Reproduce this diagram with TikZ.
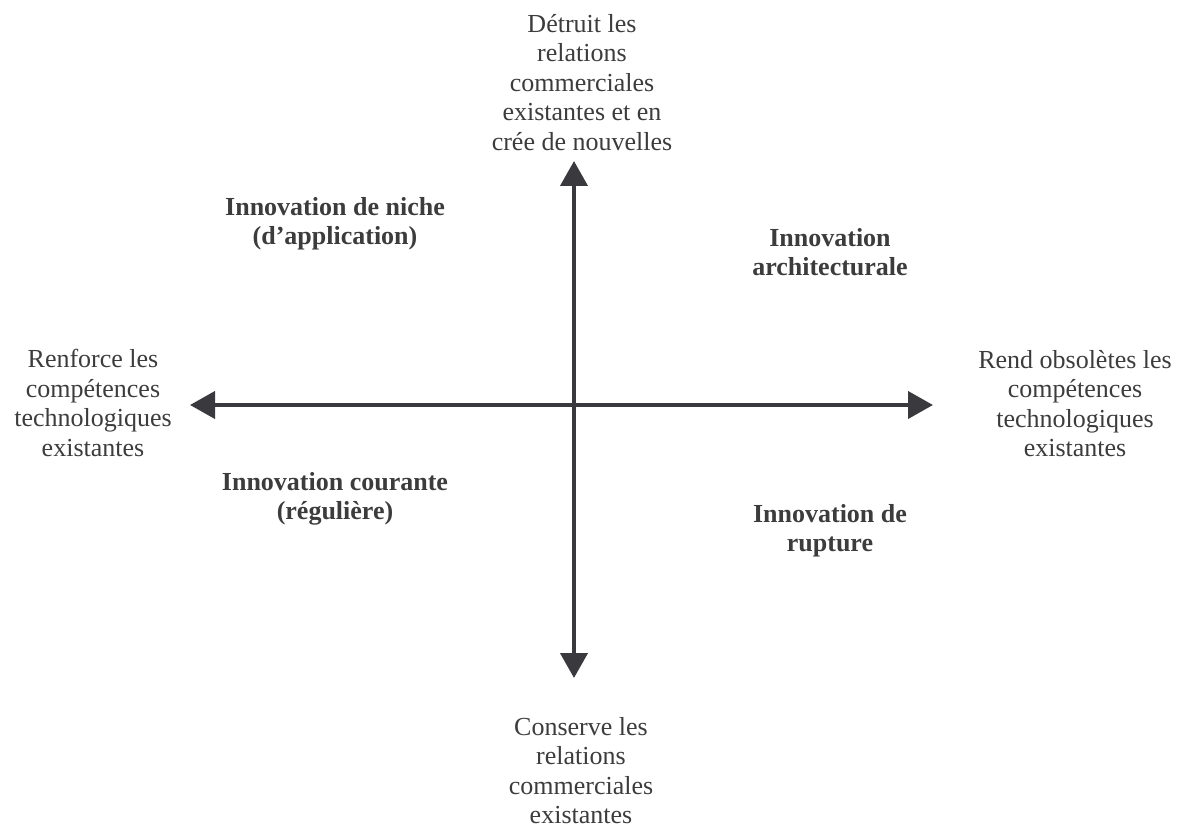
\documentclass[tikz,border=0pt]{standalone}
\usepackage{fontspec}
\setmainfont{Liberation Serif}
\usetikzlibrary{arrows.meta}
\definecolor{axis}{RGB}{58,58,62}
\definecolor{txt}{RGB}{60,60,60}
\begin{document}
\begin{tikzpicture}[x=1pt,y=-1pt,
  lbl/.style={align=center,anchor=north,inner sep=0pt,text=txt,font=\fontsize{26}{29.5}\selectfont},
  blbl/.style={lbl,font=\fontsize{26}{29.5}\selectfont\bfseries},
  axisarrow/.style={draw=axis,line width=4pt,{Triangle[length=25pt,width=27pt]}-{Triangle[length=25pt,width=27pt]}}]
\useasboundingbox (0,0) rectangle (1188,829);
\coordinate (W) at (190,405);
\coordinate (E) at (933,405);
\coordinate (N) at (574,161);
\coordinate (S) at (574,678);
\draw[axisarrow] (W) -- (E);
\draw[axisarrow] (N) -- (S);
\node[lbl] (top) at (582,14) {Détruit les\\relations\\commerciales\\existantes et en\\crée de nouvelles};
\node[lbl] (bottom) at (581,717) {Conserve les\\relations\\commerciales\\existantes};
\node[lbl] (left) at (93,349) {Renforce les\\compétences\\technologiques\\existantes};
\node[lbl] (right) at (1075,350) {Rend obsolètes les\\compétences\\technologiques\\existantes};
\node[blbl] (niche) at (335,197) {Innovation de niche\\(d’application)};
\node[blbl] (archi) at (830,228) {Innovation\\architecturale};
\node[blbl] (cour) at (335,472) {Innovation courante\\(régulière)};
\node[blbl] (rupt) at (830,504) {Innovation de\\rupture};
\end{tikzpicture}
\end{document}
